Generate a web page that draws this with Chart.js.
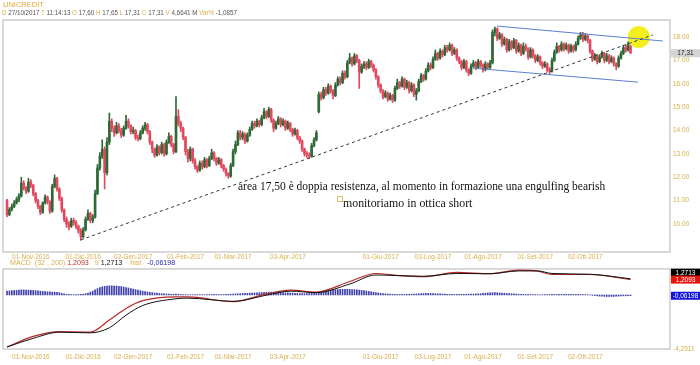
<!DOCTYPE html>
<html>
<head>
<meta charset="utf-8">
<script src="https://cdn.jsdelivr.net/npm/chart.js@4.4.0/dist/chart.umd.min.js"></script>
<style>
body{margin:0;background:#fff;width:700px;height:365px;overflow:hidden;position:relative;font-family:"Liberation Sans",Arial,sans-serif}
canvas{position:absolute;left:0}
#main{top:0}
#macd{top:262px}
.t{position:absolute;white-space:nowrap;line-height:1;transform-origin:0 0}
.g{color:#d9b04a}
.k{color:#555}
.note{font-family:"Liberation Serif","Times New Roman",serif;font-size:12.5px;color:#111}
#sq{position:absolute;left:337px;top:196px;width:4px;height:4px;border:1px solid #d8bf6a}
</style>
</head>
<body>
<canvas id="main" width="700" height="262"></canvas>
<canvas id="macd" width="700" height="103"></canvas>

<div class="t" style="left:3px;top:1px;font-size:7.5px;color:#e2aa35">UNICREDIT</div>
<div class="t" id="hdr" style="left:2px;top:10px;font-size:6.5px">
<span class="g">D</span> <span class="k">27/10/2017</span> <span class="g">T</span> <span class="k">11:14:13</span> <span class="g">O</span> <span class="k">17,60</span> <span class="g">H</span> <span class="k">17,65</span> <span class="g">L</span> <span class="k">17,31</span> <span class="g">C</span> <span class="k">17,31</span> <span class="g">V</span> <span class="k">4,6641 M</span> <span class="g">Var%</span> <span class="k">-1,0857</span>
</div>
<div class="t" id="leg" style="left:10px;top:259px;font-size:7px">
<span class="g">MACD</span>&nbsp; <span class="g">(32 , 200)</span> <span style="color:#c0302a">1,2093</span>&nbsp;&nbsp; <span class="g">9</span> <span style="color:#111">1,2713</span>&nbsp;&nbsp;&nbsp; <span class="g">hist</span>&nbsp;&nbsp; <span style="color:#2a2ab0">-0,06198</span>
</div>
<div class="t note" id="n1" style="left:238px;top:180px">area 17,50 è doppia resistenza, al momento in formazione una engulfing bearish</div>
<div class="t note" id="n2" style="left:343px;top:196.5px">monitoriamo in ottica short</div>
<div id="sq"></div>

<script>
// date ticks (trading-day index)
var tickIdx = [10, 32, 53, 75, 95, 118, 157, 179, 200, 222, 243];
var tickLabels = ['01-Nov-2016','01-Dic-2016','02-Gen-2017','01-Feb-2017','01-Mar-2017','03-Apr-2017',
  '01-Giu-2017','03-Lug-2017','01-Ago-2017','01-Set-2017','02-Ott-2017'];
var priceTicks = [10, 11, 12, 13, 14, 15, 16, 17, 18];

var opens = [
11.00,10.40,10.62,10.75,10.90,11.05,11.20,11.75,11.55,11.40,
11.80,11.65,11.30,11.00,10.75,10.50,10.90,11.15,10.95,10.55,
11.60,11.95,11.50,11.10,10.60,10.20,10.00,9.90,10.15,10.05,
9.90,9.70,9.45,9.75,10.20,10.45,10.15,10.30,11.30,12.40,
12.90,13.20,12.20,13.50,14.40,14.10,13.90,14.20,14.00,13.80,
14.10,14.40,14.20,13.95,14.00,13.70,13.65,13.90,14.10,14.25,
13.95,13.50,13.20,12.95,13.30,13.05,13.40,13.00,13.50,13.75,
13.40,13.10,14.60,14.30,14.10,13.70,13.10,12.80,13.20,12.70,
12.45,12.30,12.60,12.45,12.75,12.50,12.80,13.05,12.80,12.60,
12.75,12.50,12.35,12.15,12.05,12.50,13.10,13.40,13.90,13.70,
13.85,13.55,13.80,14.05,14.30,14.20,14.40,14.25,14.55,14.80,
14.60,14.90,14.45,14.10,14.30,14.50,14.25,14.40,14.10,14.30,
14.05,13.85,14.00,13.70,13.55,13.20,13.00,12.95,12.90,13.35,
13.60,14.80,15.55,15.40,15.75,15.60,15.90,15.70,15.50,15.95,
16.20,16.05,16.45,16.30,16.90,17.10,16.85,17.20,17.00,16.50,
16.75,16.85,16.70,16.95,16.80,16.60,16.30,15.95,15.70,15.45,
15.60,15.35,15.50,15.30,15.80,16.05,15.90,16.20,15.85,16.05,
15.70,15.95,15.55,15.70,16.10,16.35,16.20,16.55,16.80,16.70,
17.05,17.30,17.10,17.40,17.25,17.55,17.45,17.65,17.30,17.45,
17.10,16.95,16.70,16.95,16.60,16.45,16.75,16.90,16.70,16.95,
16.80,16.60,16.85,16.70,16.90,18.20,18.35,17.95,18.10,17.70,
17.90,17.45,17.80,17.55,17.85,17.40,17.65,17.30,17.60,17.50,
17.15,17.45,17.20,17.00,17.15,16.90,16.75,16.85,16.60,16.55,
17.00,17.35,17.60,17.45,17.70,17.50,17.65,17.40,17.60,17.45,
17.70,17.95,18.10,17.90,18.05,17.85,17.40,17.05,17.20,16.95,
17.15,17.30,17.00,17.20,16.95,17.10,16.85,16.75,17.10,17.30,
17.55,17.45,17.60];

var highs = [
11.05,10.70,10.85,11.00,11.15,11.30,12.00,11.85,11.60,11.95,
11.90,11.70,11.35,11.05,10.80,10.95,11.25,11.20,11.00,11.70,
12.10,12.00,11.55,11.15,10.65,10.30,10.10,10.25,10.25,10.15,
9.95,9.80,9.85,10.30,10.60,10.50,10.40,11.45,12.55,13.05,
13.60,13.30,13.70,14.75,14.50,14.20,14.35,14.30,14.10,14.20,
14.65,14.50,14.25,14.15,14.05,13.80,14.00,14.20,14.35,14.30,
14.00,13.55,13.25,13.40,13.35,13.50,13.45,13.60,13.90,13.80,
13.45,15.45,14.90,14.40,14.15,13.75,13.20,13.30,13.25,12.80,
12.50,12.70,12.70,12.85,12.80,12.90,13.20,13.10,12.85,12.85,
12.80,12.55,12.40,12.20,12.60,13.20,13.55,14.00,14.00,13.95,
13.90,13.90,14.15,14.40,14.40,14.50,14.45,14.65,14.95,14.85,
15.00,14.95,14.50,14.40,14.60,14.55,14.50,14.45,14.40,14.35,
14.10,14.10,14.05,13.75,13.60,13.25,13.10,13.05,13.45,13.70,
14.00,15.65,15.65,15.85,15.85,16.00,15.95,15.75,16.05,16.30,
16.30,16.55,16.55,17.00,17.30,17.15,17.30,17.25,17.05,16.85,
16.95,16.95,17.05,17.00,16.85,16.65,16.35,16.00,15.75,15.70,
15.65,15.60,15.55,15.90,16.20,16.10,16.30,16.25,16.15,16.10,
16.05,16.00,15.80,16.20,16.45,16.40,16.65,16.90,16.90,17.15,
17.45,17.35,17.50,17.45,17.65,17.65,17.75,17.70,17.55,17.50,
17.15,17.00,17.05,17.00,16.65,16.85,17.00,16.95,17.05,17.00,
16.85,16.95,16.90,17.00,18.30,18.43,18.40,18.20,18.15,18.00,
17.95,17.90,17.85,17.95,17.90,17.75,17.70,17.75,17.70,17.55,
17.55,17.50,17.25,17.25,17.20,16.95,16.95,16.90,16.70,17.10,
17.45,17.75,17.65,17.80,17.75,17.75,17.70,17.70,17.65,17.80,
18.05,18.20,18.20,18.15,18.10,17.90,17.45,17.30,17.25,17.25,
17.40,17.35,17.30,17.25,17.20,17.15,16.90,17.20,17.40,17.65,
17.65,17.80,17.65];

var lows = [
10.30,10.35,10.55,10.70,10.85,10.95,11.15,11.45,11.30,11.35,
11.55,11.20,10.90,10.65,10.40,10.45,10.85,10.85,10.45,10.50,
11.55,11.40,11.00,10.50,10.10,9.85,9.75,9.85,9.95,9.80,
9.60,9.30,9.40,9.70,10.15,10.05,10.05,10.25,11.25,12.30,
12.80,11.50,12.10,13.40,13.95,13.75,13.85,13.90,13.70,13.75,
14.05,14.10,13.85,13.85,13.60,13.55,13.60,13.85,14.00,13.85,
13.40,13.05,12.85,12.90,12.95,13.00,12.90,12.95,13.45,13.30,
13.00,13.05,14.20,13.95,13.60,12.95,12.65,12.70,12.60,12.35,
12.20,12.25,12.35,12.40,12.40,12.45,12.75,12.70,12.50,12.55,
12.40,12.25,12.05,11.95,12.00,12.45,13.00,13.35,13.60,13.60,
13.45,13.50,13.75,14.00,14.10,14.15,14.15,14.20,14.50,14.50,
14.55,14.35,13.95,14.05,14.25,14.15,14.20,14.00,14.05,13.95,
13.75,13.80,13.60,13.45,13.10,12.90,12.85,12.80,12.85,13.30,
13.55,14.75,15.30,15.35,15.50,15.55,15.60,15.35,15.45,15.90,
15.95,16.00,16.20,16.25,16.85,16.75,16.80,16.90,15.80,16.45,
16.65,16.60,16.65,16.70,16.50,16.20,15.85,15.60,15.35,15.40,
15.25,15.30,15.20,15.25,15.75,15.80,15.85,15.75,15.80,15.60,
15.65,15.45,15.30,15.65,16.05,16.10,16.15,16.50,16.60,16.65,
17.00,17.00,17.05,17.15,17.20,17.35,17.40,17.20,17.25,17.00,
16.85,16.60,16.65,16.50,16.35,16.40,16.70,16.60,16.65,16.70,
16.50,16.55,16.60,16.65,16.85,18.05,17.85,17.90,17.60,17.65,
17.35,17.40,17.45,17.50,17.30,17.35,17.20,17.25,17.40,17.05,
17.10,17.10,16.90,16.95,16.80,16.65,16.70,16.50,16.42,16.50,
16.95,17.30,17.35,17.40,17.40,17.45,17.30,17.35,17.35,17.40,
17.65,17.90,17.80,17.85,17.75,17.30,16.95,17.00,16.85,16.90,
17.10,16.90,16.95,16.85,16.90,16.75,16.60,16.70,17.05,17.25,
17.35,17.40,17.31];

var closes = [
10.40,10.62,10.75,10.90,11.05,11.20,11.75,11.55,11.40,11.80,
11.65,11.30,11.00,10.75,10.50,10.90,11.15,10.95,10.55,11.60,
11.95,11.50,11.10,10.60,10.20,10.00,9.90,10.15,10.05,9.90,
9.70,9.45,9.75,10.20,10.45,10.15,10.30,11.30,12.40,12.90,
13.20,12.20,13.50,14.40,14.10,13.90,14.20,14.00,13.80,14.10,
14.40,14.20,13.95,14.00,13.70,13.65,13.90,14.10,14.25,13.95,
13.50,13.20,12.95,13.30,13.05,13.40,13.00,13.50,13.75,13.40,
13.10,14.60,14.30,14.10,13.70,13.10,12.80,13.20,12.70,12.45,
12.30,12.60,12.45,12.75,12.50,12.80,13.05,12.80,12.60,12.75,
12.50,12.35,12.15,12.05,12.50,13.10,13.40,13.90,13.70,13.85,
13.55,13.80,14.05,14.30,14.20,14.40,14.25,14.55,14.80,14.60,
14.90,14.45,14.10,14.30,14.50,14.25,14.40,14.10,14.30,14.05,
13.85,14.00,13.70,13.55,13.20,13.00,12.95,12.90,13.35,13.60,
13.90,15.55,15.40,15.75,15.60,15.90,15.70,15.50,15.95,16.20,
16.05,16.45,16.30,16.90,17.10,16.85,17.20,17.00,16.50,16.75,
16.85,16.70,16.95,16.80,16.60,16.30,15.95,15.70,15.45,15.60,
15.35,15.50,15.30,15.80,16.05,15.90,16.20,15.85,16.05,15.70,
15.95,15.55,15.70,16.10,16.35,16.20,16.55,16.80,16.70,17.05,
17.30,17.10,17.40,17.25,17.55,17.45,17.65,17.30,17.45,17.10,
16.95,16.70,16.95,16.60,16.45,16.75,16.90,16.70,16.95,16.80,
16.60,16.85,16.70,16.90,18.20,18.35,17.95,18.10,17.70,17.90,
17.45,17.80,17.55,17.85,17.40,17.65,17.30,17.60,17.50,17.15,
17.45,17.20,17.00,17.15,16.90,16.75,16.85,16.60,16.55,17.00,
17.35,17.60,17.45,17.70,17.50,17.65,17.40,17.60,17.45,17.70,
17.95,18.10,17.90,18.05,17.85,17.40,17.05,17.20,16.95,17.15,
17.30,17.00,17.20,16.95,17.10,16.85,16.75,17.10,17.30,17.55,
17.45,17.70,17.31];

// drawn lines (day index, price)
var trendX = [31, 271.4],  trendY = [9.32, 18.09];
var upperX = [205.9, 275.6], upperY = [18.47, 17.83];
var lowerX = [195.8, 265.1], lowerY = [16.67, 16.07];
var circleX = [265.5], circleY = [18.0];
var lastPrice = 17.31;

// MACD panel
var macdIdx   = [0,11,22,35,43,50,57,71,76,95,109,119,130,144,155,165,175,189,203,215,223,229,245,262];
var macdVals  = [-4.09,-3.26,-2.88,-2.92,-1.97,-1.06,-0.45,-0.15,-0.15,-0.53,0.08,0.38,0.23,1.06,1.69,1.52,1.44,1.77,1.67,1.95,1.87,1.61,1.61,1.2093];
var signalVals= [-4.09,-3.41,-2.93,-2.98,-2.58,-1.59,-0.83,-0.30,-0.25,-0.50,-0.02,0.30,0.18,0.86,1.57,1.52,1.47,1.69,1.67,1.89,1.89,1.69,1.63,1.2713];
var histVals = [
0.30,0.32,0.34,0.35,0.36,0.38,0.40,0.40,0.38,0.38,0.36,0.36,0.34,0.32,0.30,0.28,0.26,0.25,0.24,0.22,0.22,0.20,0.18,
0.12,0.08,0.05,0.04,0.03,0.02,0.03,0.04,0.05,0.06,0.10,0.15,
0.22,0.30,0.40,0.50,0.58,0.64,0.68,0.70,0.72,0.72,0.70,0.70,0.68,0.66,0.62,0.58,0.55,0.50,0.46,0.42,0.38,0.34,0.30,0.27,0.24,
0.21,0.18,0.16,0.14,0.12,0.10,0.09,0.08,0.07,0.06,0.06,0.06,0.05,
0.04,0.03,0.03,0.02,0.02,0.02,0.03,0.03,0.02,0.02,0.02,0.03,0.03,0.03,0.04,0.04,0.03,0.03,0.03,0.04,0.05,0.06,0.07,0.08,0.09,0.10,0.11,0.12,0.13,0.14,
0.15,0.16,0.17,0.18,0.19,0.20,0.21,0.22,0.22,0.22,0.21,0.20,0.19,0.18,0.17,0.16,0.15,0.14,0.13,0.12,0.11,0.10,0.10,0.11,0.12,0.13,0.15,0.18,0.22,
0.26,0.30,0.33,0.36,0.38,0.40,0.42,0.43,0.44,0.45,0.45,0.45,0.44,0.43,0.42,0.40,0.38,0.36,0.34,0.31,0.28,0.25,0.22,0.19,0.16,0.13,0.11,0.09,0.07,0.06,
0.05,0.05,0.04,0.04,0.04,0.05,0.05,0.06,0.06,0.07,0.08,0.09,0.10,0.11,0.12,0.12,0.12,0.11,0.10,0.09,
0.08,0.07,0.06,0.05,0.05,0.04,0.04,0.04,0.05,0.05,0.05,0.06,0.06,0.07,0.07,0.08,0.09,0.10,0.12,0.14,
0.16,0.17,0.18,0.18,0.17,0.16,0.15,0.14,0.12,0.10,0.09,0.08,0.07,0.06,0.05,0.05,0.04,0.04,0.03,0.03,
0.03,0.02,0.02,0.02,0.03,0.03,0.03,0.04,0.04,0.04,0.05,0.05,0.05,0.05,0.05,0.04,0.04,0.04,0.04,0.04,
0.03,0.03,0.02,0.02,-0.03,-0.05,-0.07,-0.09,-0.10,-0.11,-0.12,-0.12,-0.12,-0.11,-0.10,-0.09,-0.08,-0.07,-0.07,-0.06,-0.06198];

var GOLD = '#d9b04a';
var UP = '#2f6a36', DOWN = '#e2485f';
var X_MIN = -1.7, X_MAX = 278.6;

function pts(xs, ys) {
    let out = [];
    for (let i = 0; i < xs.length; i++) out.push({x: xs[i], y: ys[i]});
    return out;
}

var wicks = [], bodies = [], candleColors = [];
for (let i = 0; i < closes.length; i++) {
    wicks.push({x: i, y: [lows[i], highs[i]]});
    bodies.push({x: i, y: [opens[i], closes[i]]});
    candleColors.push(closes[i] >= opens[i] ? UP : DOWN);
}
var histData = [];
for (let i = 0; i < histVals.length; i++) histData.push({x: i, y: histVals[i]});

var framePlugin = {
    id: 'frame',
    beforeDatasetsDraw(chart) {
        let a = chart.chartArea, c = chart.ctx;
        c.save();
        c.strokeStyle = '#cdcdcd';
        c.lineWidth = 1.5;
        c.strokeRect(a.left, a.top, a.right - a.left, a.bottom - a.top);
        c.restore();
    }
};

var tagPlugin = {
    id: 'tags',
    afterDraw(chart, args, opts) {
        let c = chart.ctx, ys = chart.scales.y, left = chart.chartArea.right;
        let items = opts.items.map(t => Object.assign({py: ys.getPixelForValue(t.v)}, t));
        items.sort((a, b) => a.py - b.py);
        for (let k = items.length - 2; k >= 0; k--) {
            if (items[k].py > items[k + 1].py - 7) items[k].py = items[k + 1].py - 7;
        }
        c.save();
        c.font = '6.5px "Liberation Sans", Arial';
        c.textAlign = 'center';
        c.textBaseline = 'middle';
        items.forEach(t => {
            c.fillStyle = t.bg;
            c.fillRect(left + 1, t.py - 4, 29, 8);
            c.fillStyle = t.fg;
            c.fillText(t.text, left + 15.5, t.py + 0.5);
        });
        c.restore();
    }
};

function dateAxis(pad, h) {
    return {
        type: 'linear', min: X_MIN, max: X_MAX, offset: false,
        grid: {display: false, drawTicks: false}, border: {display: false},
        afterBuildTicks: s => { s.ticks = tickIdx.map(v => ({value: v})); },
        afterFit: s => { s.height = h; },
        ticks: {
            autoSkip: false, maxRotation: 0, padding: pad, color: GOLD,
            font: {family: '"Liberation Sans", Arial', size: 6.5},
            callback: v => tickLabels[tickIdx.indexOf(v)]
        }
    };
}

Chart.defaults.animation = false;

new Chart(document.getElementById('main'), {
    type: 'bar',
    data: {
        datasets: [
            {type: 'scatter', data: pts(circleX, circleY), pointRadius: 11, pointBackgroundColor: '#f3ee1e',
             pointBorderWidth: 0, order: 9},
            {type: 'bar', data: wicks, backgroundColor: candleColors, barThickness: 1, grouped: false, order: 6},
            {type: 'bar', data: bodies, backgroundColor: candleColors, barThickness: 2, grouped: false,
             minBarLength: 1, order: 5},
            {type: 'line', data: pts(upperX, upperY), borderColor: '#5b7fd0', borderWidth: 1, pointRadius: 0, order: 2},
            {type: 'line', data: pts(lowerX, lowerY), borderColor: '#5b7fd0', borderWidth: 1, pointRadius: 0, order: 2},
            {type: 'line', data: pts(trendX, trendY), borderColor: '#333', borderWidth: 1, borderDash: [3, 3],
             pointRadius: 0, order: 1}
        ]
    },
    options: {
        responsive: false,
        layout: {autoPadding: false, padding: {left: 3, top: 20, right: 0, bottom: 0}},
        plugins: {legend: {display: false}, tooltip: {enabled: false},
            tags: {items: [{v: lastPrice, text: '17,31', bg: '#d4d4d4', fg: '#222'}]}},
        scales: {
            x: dateAxis(1, 10),
            y: {
                position: 'right', min: 8.8, max: 18.73,
                grid: {display: false, drawTicks: false}, border: {display: false},
                afterBuildTicks: s => { s.ticks = priceTicks.map(v => ({value: v})); },
                afterFit: s => { s.width = 30; },
                ticks: {padding: 3, color: GOLD, font: {family: '"Liberation Sans", Arial', size: 6.5},
                    callback: v => v.toFixed(2)}
            }
        }
    },
    plugins: [framePlugin, tagPlugin]
});

new Chart(document.getElementById('macd'), {
    type: 'bar',
    data: {
        datasets: [
            {type: 'bar', data: histData, backgroundColor: '#4040ac', barThickness: 1, order: 3},
            {type: 'line', data: pts(macdIdx, macdVals), borderColor: '#b52a26', borderWidth: 1.2,
             pointRadius: 0, cubicInterpolationMode: 'monotone', order: 2},
            {type: 'line', data: pts(macdIdx, signalVals), borderColor: '#111', borderWidth: 1,
             pointRadius: 0, cubicInterpolationMode: 'monotone', order: 1}
        ]
    },
    options: {
        responsive: false,
        layout: {autoPadding: false, padding: {left: 3, top: 5, right: 0, bottom: 0}},
        plugins: {legend: {display: false}, tooltip: {enabled: false},
            tags: {items: [
                {v: signalVals[signalVals.length - 1], text: '1,2713', bg: '#000', fg: '#fff'},
                {v: macdVals[macdVals.length - 1], text: '1,2093', bg: '#e8120c', fg: '#fff'},
                {v: histVals[histVals.length - 1], text: '-0,06198', bg: '#1414d8', fg: '#fff'}
            ]}},
        scales: {
            x: dateAxis(4, 16),
            y: {
                position: 'right', min: -4.2511, max: 2.05,
                grid: {display: false, drawTicks: false}, border: {display: false},
                afterBuildTicks: s => { s.ticks = [{value: -4.2511}]; },
                afterFit: s => { s.width = 30; },
                ticks: {padding: 3, color: GOLD, font: {family: '"Liberation Sans", Arial', size: 6.5},
                    callback: v => v.toFixed(4).replace('.', ',')}
            }
        }
    },
    plugins: [framePlugin, tagPlugin]
});

// stretch the text lines to the width they have in the picture
[['hdr', 235], ['leg', 165], ['n1', 367], ['n2', 129]].forEach(p => {
    let el = document.getElementById(p[0]);
    el.style.transform = 'scaleX(' + (p[1] / el.offsetWidth) + ')';
});
</script>
</body>
</html>
